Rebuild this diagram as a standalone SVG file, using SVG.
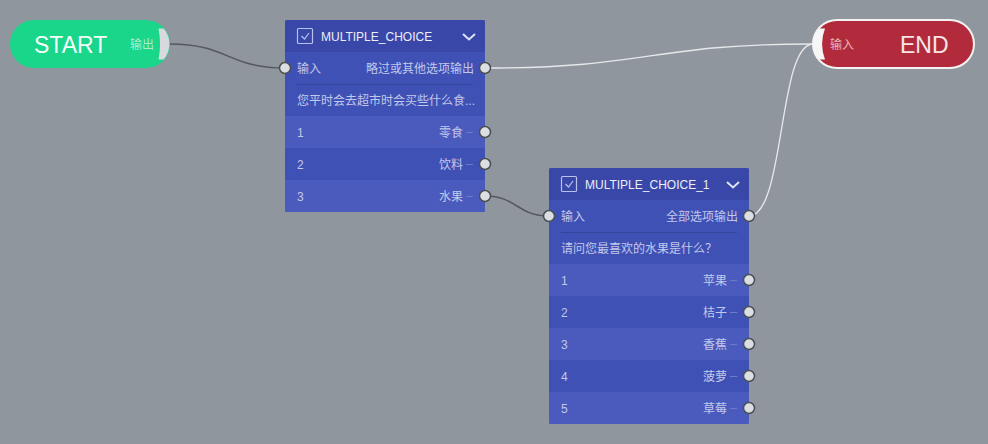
<svg xmlns="http://www.w3.org/2000/svg" width="988" height="444" viewBox="0 0 988 444">
<style>
text{font-family:"Liberation Sans","Noto Sans CJK SC",sans-serif}
.bg{fill:#8f969d}
.body{fill:#3f51b5}
.hdr{fill:#3947a8}
.lt{fill:#4a5bbd}
.htxt{fill:#eceef8;font-size:12px}
.rtxt{fill:#c3c8ea;font-size:12px}
.sep{stroke:#34439c;stroke-width:1}
.dash{stroke:#6c7bcc;stroke-width:1}
.port{fill:#dcdfe2;stroke:#4a4f55;stroke-width:1.5}
.dark{fill:none;stroke:#55595e;stroke-width:1.5}
.light{fill:none;stroke:#e6e8ea;stroke-width:1.3}
.icon{fill:none;stroke:#b9c0ea;stroke-width:1.2}
</style>
<rect class="bg" x="0" y="0" width="988" height="444"/>
<g id="connectors">
<path class="dark" d="M170,44 C228,44 228,68 285,68"/>
<path class="light" d="M485,68 C650,68 650,44 813,44"/>
<path class="dark" d="M485,196 C517,196 517,216 549,216"/>
<path class="light" d="M749,216 C785,216 778,44 813,44"/>
</g>
<g id="start">
<rect x="10" y="20" width="160" height="48" rx="24" fill="#19d68a"/>
<path d="M158.5,28.5 L163.7,28.5 A24,24 0 0 1 163.7,59.5 L158.5,59.5 A80,80 0 0 0 158.5,28.5 Z" fill="#d6dadd"/>
<text x="34" y="53" font-size="23" fill="#f4fff9">START</text>
<text x="130" y="49" font-size="12" fill="#a9ecd0">输出</text>
</g>
<g id="end">
<rect x="813" y="20" width="161" height="48" rx="24" fill="#b22b3c" stroke="#f2f2f2" stroke-width="2"/>
<path d="M825,28.5 L818.7,28.5 A24,24 0 0 0 818.7,59.5 L825,59.5 A44,44 0 0 1 825,28.5 Z" fill="#f6f6f6"/>
<text x="900" y="53" font-size="23" fill="#f7e6e8">END</text>
<text x="830" y="49" font-size="12" fill="#e8b3ba">输入</text>
</g>
<g id="node-multiple-choice">
<rect class="body" x="285" y="20" width="200" height="192" rx="2"/>
<path class="hdr" d="M287,20 H483 A2,2 0 0 1 485,22 V52 H285 V22 A2,2 0 0 1 287,20 Z"/>
<rect class="icon" x="297.5" y="28.5" width="15" height="15" rx="1"/>
<path class="icon" d="M301.5,36 L304.5,39 L309,33"/>
<text class="htxt" x="321" y="41">MULTIPLE_CHOICE</text>
<path d="M463,34 L469,39.5 L475,34" fill="none" stroke="#dfe3f6" stroke-width="2"/>
<text class="rtxt" x="297" y="73">输入</text>
<text class="rtxt" x="474" y="73" text-anchor="end">略过或其他选项输出</text>
<line class="sep" x1="297" y1="84.5" x2="473" y2="84.5"/>
<text class="rtxt" x="297" y="105">您平时会去超市时会买些什么食...</text>
<rect class="lt" x="285" y="116" width="200" height="32"/>
<rect class="lt" x="285" y="180" width="200" height="32" rx="2"/>
<rect class="lt" x="285" y="180" width="200" height="10"/>
<text class="rtxt" x="297" y="137">1</text>
<text class="rtxt" x="463" y="137" text-anchor="end">零食</text>
<line class="dash" x1="466" y1="132.5" x2="473" y2="132.5"/>
<text class="rtxt" x="297" y="169">2</text>
<text class="rtxt" x="463" y="169" text-anchor="end">饮料</text>
<line class="dash" x1="466" y1="164.5" x2="473" y2="164.5"/>
<text class="rtxt" x="297" y="201">3</text>
<text class="rtxt" x="463" y="201" text-anchor="end">水果</text>
<line class="dash" x1="466" y1="196.5" x2="473" y2="196.5"/>
<circle class="port" cx="285" cy="68" r="5.5"/>
<circle class="port" cx="485" cy="68" r="5.5"/>
<circle class="port" cx="485" cy="132" r="5.5"/>
<circle class="port" cx="485" cy="164" r="5.5"/>
<circle class="port" cx="485" cy="196" r="5.5"/>
</g>
<g id="node-multiple-choice-1">
<rect class="body" x="549" y="168" width="200" height="256" rx="2"/>
<path class="hdr" d="M551,168 H747 A2,2 0 0 1 749,170 V200 H549 V170 A2,2 0 0 1 551,168 Z"/>
<rect class="icon" x="561.5" y="176.5" width="15" height="15" rx="1"/>
<path class="icon" d="M565.5,184 L568.5,187 L573,181"/>
<text class="htxt" x="585" y="189">MULTIPLE_CHOICE_1</text>
<path d="M727,182 L733,187.5 L739,182" fill="none" stroke="#dfe3f6" stroke-width="2"/>
<text class="rtxt" x="561" y="221">输入</text>
<text class="rtxt" x="738" y="221" text-anchor="end">全部选项输出</text>
<line class="sep" x1="561" y1="232.5" x2="737" y2="232.5"/>
<text class="rtxt" x="561" y="253">请问您最喜欢的水果是什么？</text>
<rect class="lt" x="549" y="264" width="200" height="32"/>
<rect class="lt" x="549" y="328" width="200" height="32"/>
<rect class="lt" x="549" y="392" width="200" height="32" rx="2"/>
<rect class="lt" x="549" y="392" width="200" height="10"/>
<text class="rtxt" x="561" y="285">1</text>
<text class="rtxt" x="727" y="285" text-anchor="end">苹果</text>
<line class="dash" x1="730" y1="280.5" x2="737" y2="280.5"/>
<text class="rtxt" x="561" y="317">2</text>
<text class="rtxt" x="727" y="317" text-anchor="end">桔子</text>
<line class="dash" x1="730" y1="312.5" x2="737" y2="312.5"/>
<text class="rtxt" x="561" y="349">3</text>
<text class="rtxt" x="727" y="349" text-anchor="end">香蕉</text>
<line class="dash" x1="730" y1="344.5" x2="737" y2="344.5"/>
<text class="rtxt" x="561" y="381">4</text>
<text class="rtxt" x="727" y="381" text-anchor="end">菠萝</text>
<line class="dash" x1="730" y1="376.5" x2="737" y2="376.5"/>
<text class="rtxt" x="561" y="413">5</text>
<text class="rtxt" x="727" y="413" text-anchor="end">草莓</text>
<line class="dash" x1="730" y1="408.5" x2="737" y2="408.5"/>
<circle class="port" cx="549" cy="216" r="5.5"/>
<circle class="port" cx="749" cy="216" r="5.5"/>
<circle class="port" cx="749" cy="280" r="5.5"/>
<circle class="port" cx="749" cy="312" r="5.5"/>
<circle class="port" cx="749" cy="344" r="5.5"/>
<circle class="port" cx="749" cy="376" r="5.5"/>
<circle class="port" cx="749" cy="408" r="5.5"/>
</g>
</svg>
